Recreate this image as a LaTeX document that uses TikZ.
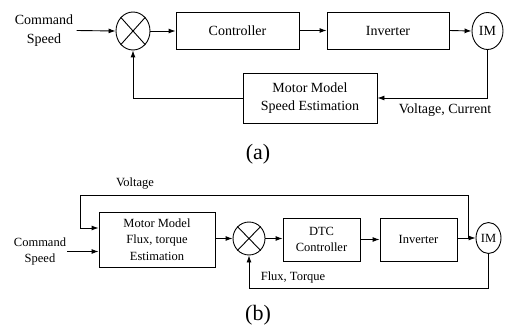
\documentclass[tikz,border=0pt]{standalone}
\usepackage{fontspec}
\setmainfont{Liberation Serif}
\usetikzlibrary{shapes.geometric,arrows.meta}
\begin{document}
\begin{tikzpicture}[x=1pt,y=-1pt,
  line width=0.9pt,
  fa/.style={font=\fontsize{14}{18}\selectfont},
  fb/.style={font=\fontsize{12.5}{16.5}\selectfont},
  blk/.style={draw,rectangle,inner sep=0pt,align=center},
  ell/.style={draw,ellipse,inner sep=0pt},
  arr/.style={-{Latex[length=7pt,width=5pt]}},
  lbl/.style={inner sep=1pt,align=center}]
\useasboundingbox (0,0) rectangle (507,329);
% ---------- (a) ----------
\node[lbl,fa,font=\fontsize{14}{19}\selectfont,inner sep=3pt] (cmdA) at (44,30.5) {Command\\Speed};
\node[ell,minimum width=34pt,minimum height=38pt] (sumA) at (133,31) {};
\draw (sumA.north east) -- (sumA.south west) (sumA.north west) -- (sumA.south east);
\node[blk,fa,minimum width=123pt,minimum height=37pt] (ctrlA) at (237.5,30.5) {Controller};
\node[blk,fa,minimum width=122pt,minimum height=37pt] (invA) at (388,30.5) {Inverter};
\node[ell,fa,minimum width=31pt,minimum height=37pt] (imA) at (487.5,31) {IM};
\node[blk,fa,minimum width=134pt,minimum height=50pt] (mmA) at (310,98) {Motor Model\\Speed Estimation};
\node[lbl,fa] (vcA) at (445,110) {Voltage, Current};
\node[lbl,font=\fontsize{22}{26}\selectfont] (capA) at (258,154) {(a)};
\draw[arr] (cmdA.east) -- (sumA.west);
\draw[arr] (sumA.east) -- (ctrlA.west |- sumA.east);
\draw[arr] (ctrlA.east) -- (invA.west);
\draw[arr] (invA.east) -- (imA.west);
\draw[arr] (imA.south) |- (mmA.east);
\draw[arr] (mmA.west) -| (sumA.south);
% ---------- (b) ----------
\node[lbl,fb,inner sep=1pt] (cmdB) at (40,251.5) {Command\\Speed};
\node[blk,fb,minimum width=116pt,minimum height=55pt] (mmB) at (157,239.5) {Motor Model\\Flux, torque\\Estimation};
\node[ell,minimum width=32pt,minimum height=33pt] (sumB) at (249,238.5) {};
\draw (sumB.north east) -- (sumB.south west) (sumB.north west) -- (sumB.south east);
\node[blk,fb,minimum width=77pt,minimum height=43pt] (dtcB) at (321.5,239.5) {DTC\\Controller};
\node[blk,fb,minimum width=77pt,minimum height=43pt] (invB) at (418.5,239.5) {Inverter};
\node[ell,fb,minimum width=25pt,minimum height=31pt] (imB) at (488.5,238) {IM};
\node[lbl,fb] (volB) at (135,184) {Voltage};
\node[lbl,fb] (ftB) at (293,277) {Flux, Torque};
\node[lbl,font=\fontsize{22}{26}\selectfont] (capB) at (258,315) {(b)};
\coordinate (vj) at (468,238);
\coordinate (vl) at (80,195);
\coordinate (fb) at (488.5,288);
\draw[arr] (cmdB.east) -- (cmdB.east -| mmB.west);
\draw[arr] (mmB.east |- sumB.west) -- (sumB.west);
\draw[arr] (sumB.east) -- (dtcB.west |- sumB.east);
\draw[arr] (dtcB.east) -- (invB.west);
\draw[arr] (invB.east |- imB.west) -- (imB.west);
\draw[arr] (vj) |- (vl) |- ([yshift=11.5pt]mmB.west);
\draw[arr] (imB.south) -- (fb) -| (sumB.south);
\end{tikzpicture}
\end{document}
